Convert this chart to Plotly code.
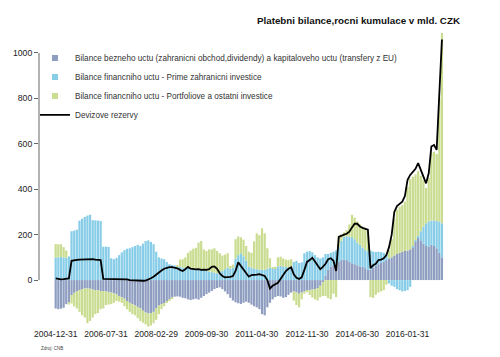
import pandas as pd
import plotly.graph_objects as go

# ---- data (bn CZK, 12-month cumulative), monthly from 2004-12 to 2017-02 ----
months = pd.date_range("2004-12-31", periods=147, freq="ME").strftime("%Y-%m-%d").tolist()

current_account = [
    -125, -128, -126, -122, -106, -98,
    -66, -56, -50, -45, -40, -37, -37, -38, -42, -44, -45, -48,
    -48, -50, -52, -55, -58, -63, -70, -76, -82, -92, -100, -106, -112, -118, -124, -135, -143, -147, -147, -140, -125, -112, -106,
    -102, -96, -85, -78, -73, -72, -73, -78, -80, -85, -88, -85, -82, -86, -78, -70, -62, -55, -48, -40, -35, -32, -40, -50, -62, -78, -90, -98, -102, -105, -100, -95,
    -100, -108, -115, -120, -128, -150, -155, -120, -100, -85, -75, -70, -72, -78, -75, -65, -55, -50, -55, -60, -55, -50, -48, -45, -42, -40, -35, -25, -10, 20, 45, 60, 65, 68,
    80, 88, 90, 88, 80, 74, 70, 65, 60, 58, 52, 45,
    45, 55, 62, 70, 75, 80, 88, 95, 100, 108, 115, 120, 125, 128, 130, 135, 145, 170, 185, 175, 160, 150, 148, 155, 150, 140, 120, 100,
]

fdi = [
    100, 100, 102, 100, 98, 104,
    215, 218, 222, 262, 270, 278, 284, 288, 264, 263, 262, 260,
    147, 147, 146, 96, 92, 98, 110, 122, 132, 138, 140, 145, 150, 155, 150, 160, 172, 175, 168, 158, 125, 100, 95,
    92, 80, 70, 66, 64, 60, 58, 56, 55, 55, 52, 50, 50, 48, 48, 45, 40, 38, 35, 32, 30, 35, 40, 48, 55, 50, 55, 95, 110, 118, 105, 85,
    60, 55, 50, 48, 45, 45, 45, 50, 55, 50, 52, 60, 62, 60, 58, 55, 60, 80, 85, 75, 78, 118, 125, 128, 122, 110, 100, 95, 100, 95, 70, 60, 60, 62,
    65, 85, 100, 105, 110, 115, 110, 100, 95, 85, 80, 82,
    85, 70, 62, 55, 48, 40, 25, -15, -25, -30, -40, -45, -50, -48, -45, -30, 5, 5, 10, 40, 75, 100, 110, 107, 112, 120, 138, 150,
]

portfolio = [
    58, 58, 56, 45, 32, -10,
    -37, -60, -75, -95, -115, -128, -153, -142, -123, -106, -100, -80,
    -77, -60, -56, -50, -42, -29, -25, -24, -33, -36, -40, -44, -43, -50, -56, -53, -52, -58, -53, -50, -50, -38, -22,
    -13, -4, -5, -4, 0, 2, 32, 36, 45, 65, 78, 88, 92, 117, 124, 90, 88, 97, 100, 108, 98, 83, 68, 64, 63, 12, 13, 85, 82, 70, 73, 65,
    65, 65, 120, 158, 153, 183, 161, 90, 41, 6, 7, 40, 41, 35, 32, 33, 32, -40, -55, -60, -30, -10, -5, -20, -35, -45, -55, -50, -60, -70, -80, -85, -60, -75,
    50, 27, 20, 27, 55, 98, 95, 93, 90, 92, 96, 83,
    -75, -78, -65, -55, -50, -45, -20, 37, 80, 162, 195, 202, 205, 217, 280, 310, 305, 290, 285, 245, 205, 155, 192, 298, 303, 295, 542, 838,
]

reserves = [
    8, 5, 3, 4, 6, 7,
    85, 88, 89, 90, 91, 92, 93, 91, 92, 90, 89, 88,
    5, 5, 4, 5, 4, 3, 5, 3, 2, 3, 0, -1, -3, -4, -4, -3, -2, 2, 8, 15, 25, 33, 42,
    50, 55, 57, 57, 56, 52, 45, 40, 48, 58, 50, 48, 47, 48, 45, 46, 45, 48, 58, 60, 50, 30, 18, 12, 12, 14, 18, 40, 78, 62, 45, 30,
    15, 22, 22, 24, 26, 22, 18, 0, -37, -25, -18, -12, 5, 25, 40, 50, 56, 25, 10, 5, 12, 45, 80, 88, 98, 82, 62, 48, 58, 72, 92, 96, 85, 40,
    190, 196, 200, 204, 213, 232, 248, 248, 236, 230, 226, 222,
    52, 65, 72, 88, 90, 96, 110, 145, 200, 300, 326, 335, 345, 370, 441, 463, 478, 490, 515, 485, 456, 426, 470, 588, 595, 573, 820, 1059,
]

names = [
    "Bilance bezneho uctu (zahranicni obchod,dividendy) a kapitaloveho uctu (transfery z EU)",
    "Bilance financniho uctu - Prime zahranicni investice",
    "Bilance financniho uctu - Portfoliove a ostatni investice",
    "Devizove rezervy",
]
tick_labels = months[::19]
y_ticks = [0, 200, 400, 600, 800, 1000]

FONT = "Liberation Sans, Arial, sans-serif"
colors = ["#8E9DC0", "#88CDE8", "#C9DC8F"]

fig = go.Figure()
for i, (vals, name, col) in enumerate(zip([current_account, fdi, portfolio], names[:3], colors)):
    fig.add_trace(go.Bar(x=months, y=vals, name=name, legendgroup=f"g{i}", showlegend=False,
                         marker=dict(color=col, line=dict(width=0))))
    # small square legend key (as in the original R legend)
    fig.add_trace(go.Scatter(x=[None], y=[None], mode="markers", name=name, legendgroup=f"g{i}",
                             marker=dict(symbol="square", size=6, color=col)))
fig.add_trace(go.Scatter(x=months, y=reserves, name=names[3], mode="lines",
                         line=dict(color="black", width=1.8)))

fig.update_layout(
    width=500, height=357,
    margin=dict(l=39, r=30, t=30, b=29, autoexpand=False),
    paper_bgcolor="white", plot_bgcolor="white",
    barmode="relative", bargap=0.16,
    font=dict(family=FONT, size=8.5, color="#222"),
    title=dict(text="<b>Platebni bilance,rocni kumulace v mld. CZK</b>",
               x=460 / 500, xanchor="right", xref="container",
               y=1 - 20.7 / 357, yanchor="middle", yref="container",
               font=dict(family=FONT, size=9.8, color="#111")),
    legend=dict(x=-0.0093, xanchor="left", y=0.955, yanchor="top",
                traceorder="normal", bgcolor="rgba(0,0,0,0)", itemsizing="trace",
                tracegroupgap=0,
                font=dict(family=FONT, size=8.2, color="#333")),
    xaxis=dict(type="category", range=[-6.3, 156.6], showgrid=False, zeroline=False,
               showline=False, ticks="", tickmode="array", tickvals=tick_labels,
               ticktext=tick_labels, tickangle=0, ticklabelstandoff=-1,
               tickfont=dict(family=FONT, size=8.5, color="#222")),
    yaxis=dict(range=[-211, 1101], showgrid=False, zeroline=False, showline=False,
               tickmode="array", tickvals=y_ticks, ticks="outside", ticklen=4,
               tickcolor="#666", tickfont=dict(family=FONT, size=8.7, color="#222")),
    shapes=[dict(type="line", xref="paper", yref="y", x0=0, x1=0, y0=0, y1=1000,
                 line=dict(color="#666", width=1))],
    annotations=[dict(text="Zdroj: CNB", xref="paper", yref="paper", x=0, y=-0.07,
                      xanchor="left", yanchor="middle", showarrow=False,
                      font=dict(family=FONT, size=4.5, color="#444"))],
)

fig.write_html("out.html", config={"displayModeBar": False},
               post_script="document.body.style.margin='0';")
